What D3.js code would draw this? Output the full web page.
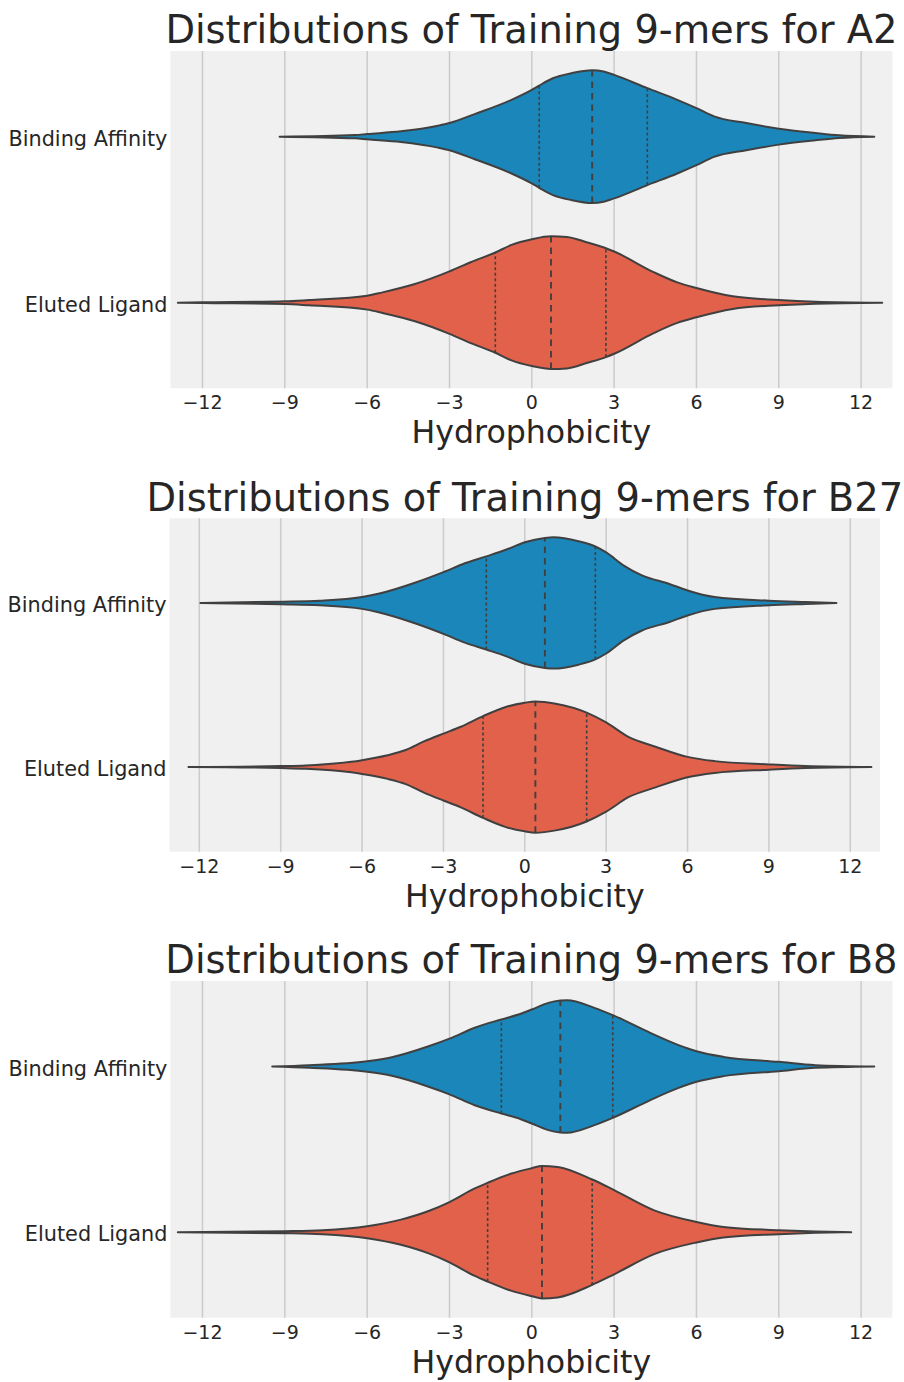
<!DOCTYPE html>
<html>
<head>
<meta charset="utf-8">
<script src="https://cdn.jsdelivr.net/npm/d3@7"></script>
<style>
  html, body { margin: 0; padding: 0; background: #ffffff; }
  svg { display: block; }
  text { font-family: "DejaVu Sans", sans-serif; fill: #262626; }
</style>
</head>
<body>
<svg id="chart" width="904" height="1382"></svg>
<script>
// ---------------- DATA ----------------
const categories = ["Binding Affinity", "Eluted Ligand"];
const panelTitles = [
  "Distributions of Training 9-mers for A2",
  "Distributions of Training 9-mers for B27",
  "Distributions of Training 9-mers for B8"
];
const xLabel = "Hydrophobicity";
const xTicks = [-12, -9, -6, -3, 0, 3, 6, 9, 12];
const xDomains = [[-13.17, 13.14], [-13.10, 13.10], [-13.17, 13.14]];

// violin profiles: [hydrophobicity, relative density (max = 1)]
const a2Binding = [[-9.19,0],[-6.44,0.025],[-6,0.04],[-4.77,0.08],[-3.42,0.165],[-3,0.205],[-2.08,0.34],[-0.74,0.555],[0,0.705],[0.27,0.77],[0.77,0.88],[1.44,0.955],[2.2,1.0],[2.62,0.98],[3,0.93],[4.21,0.73],[5.3,0.555],[6,0.43],[6.64,0.305],[7.82,0.205],[9,0.12],[10.34,0.055],[11.2,0.02],[12.48,0]];
const a2Eluted = [[-12.9,0],[-12,0.005],[-9,0.02],[-8.12,0.04],[-6,0.105],[-5.44,0.155],[-4.26,0.28],[-3,0.47],[-2.25,0.605],[-1.33,0.755],[-0.74,0.87],[0,0.955],[0.7,1.0],[1.28,0.99],[2.03,0.905],[2.7,0.82],[3,0.77],[4.46,0.455],[5.3,0.305],[6,0.22],[7.32,0.095],[9,0.04],[10.34,0.015],[12.77,0]];
const b27Binding = [[-11.96,0],[-9,0.02],[-7.57,0.035],[-6,0.09],[-5.4,0.14],[-3.97,0.32],[-3,0.47],[-2.21,0.605],[-1.42,0.71],[-0.7,0.81],[0,0.925],[0.74,0.99],[1.06,1.0],[1.98,0.94],[2.6,0.86],[3,0.77],[3.65,0.57],[4.32,0.42],[5.33,0.29],[6,0.19],[7,0.09],[9,0.035],[10.35,0.015],[11.49,0]];
const b27Eluted = [[-12.4,0],[-9,0.015],[-8.07,0.025],[-6.4,0.08],[-6,0.105],[-5.06,0.18],[-4.39,0.26],[-3.72,0.39],[-3,0.51],[-2.38,0.61],[-1.54,0.775],[-0.7,0.915],[0,0.98],[0.39,1.0],[1.14,0.965],[2.28,0.83],[3,0.68],[3.82,0.46],[4.82,0.31],[6,0.155],[7,0.09],[9,0.04],[10.35,0.015],[12.78,0]];
const b8Binding = [[-9.46,0],[-8.12,0.02],[-6,0.08],[-5.1,0.14],[-3.76,0.305],[-3,0.42],[-2.08,0.585],[-1.11,0.71],[-0.4,0.795],[0,0.86],[0.6,0.96],[1.04,0.995],[1.28,1.0],[2.28,0.885],[2.95,0.775],[4.3,0.51],[5.3,0.33],[6,0.23],[6.98,0.145],[9,0.07],[10.34,0.02],[12.48,0]];
const b8Eluted = [[-12.9,0],[-9,0.015],[-7.62,0.03],[-6,0.09],[-4.77,0.19],[-3.76,0.32],[-3,0.455],[-2.08,0.66],[-1.61,0.745],[-0.74,0.885],[0,0.965],[0.37,1.0],[0.94,0.985],[2.2,0.795],[3,0.635],[4.46,0.33],[6,0.155],[6.98,0.08],[9,0.03],[10.34,0.01],[11.64,0]];

// quartiles [Q1, median, Q3]
const a2BindingQ = [0.27, 2.2, 4.21];
const a2ElutedQ = [-1.33, 0.7, 2.7];
const b27BindingQ = [-1.42, 0.74, 2.6];
const b27ElutedQ = [-1.54, 0.39, 2.28];
const b8BindingQ = [-1.11, 1.04, 2.95];
const b8ElutedQ = [-1.61, 0.37, 2.2];

// ---------------- LAYOUT / STYLE ----------------
const colors = ["#1b86ba", "#e2614a"];
const outline = "#404040";
const panels = [
  { title: panelTitles[0], domain: xDomains[0], box: {l:170.4, r:892.4, t:51, b:388.3}, profiles:[a2Binding, a2Eluted], quarts:[a2BindingQ, a2ElutedQ] },
  { title: panelTitles[1], domain: xDomains[1], box: {l:169.5, r:880.1, t:518.3, b:851.7}, profiles:[b27Binding, b27Eluted], quarts:[b27BindingQ, b27ElutedQ] },
  { title: panelTitles[2], domain: xDomains[2], box: {l:170.4, r:892.4, t:981, b:1317.7}, profiles:[b8Binding, b8Eluted], quarts:[b8BindingQ, b8ElutedQ] }
];

function densityAt(profile, v) {
  for (let i = 0; i < profile.length - 1; i++) {
    const a = profile[i], b = profile[i+1];
    if (v >= a[0] && v <= b[0]) {
      const t = (v - a[0]) / (b[0] - a[0]);
      return a[1] + t * (b[1] - a[1]);
    }
  }
  return 0;
}

const svg = d3.select("#chart");

panels.forEach(p => {
  const {l, r, t, b} = p.box;
  const g = svg.append("g");
  const x = d3.scaleLinear().domain(p.domain).range([l, r]);
  const y = d3.scaleLinear().domain([-0.516, 1.516]).range([t, b]);
  const band = y(1) - y(0);
  const maxHalf = 0.4 * band;

  g.append("rect").attr("x", l).attr("y", t).attr("width", r - l).attr("height", b - t).attr("fill", "#f0f0f0");

  g.selectAll("line.grid").data(xTicks).join("line")
    .attr("class", "grid")
    .attr("x1", d => x(d)).attr("x2", d => x(d))
    .attr("y1", t).attr("y2", b)
    .attr("stroke", "#cbcbcb").attr("stroke-width", 1.5);

  categories.forEach((cat, i) => {
    const cy = y(i);
    const prof = p.profiles[i];
    const area = d3.area()
      .x(d => x(d[0]))
      .y0(d => cy + d[1] * maxHalf)
      .y1(d => cy - d[1] * maxHalf)
      .curve(d3.curveMonotoneX);
    g.append("path").attr("d", area(prof))
      .attr("fill", colors[i]).attr("stroke", outline)
      .attr("stroke-width", 2).attr("stroke-linejoin", "round");

    p.quarts[i].forEach((q, k) => {
      const h = densityAt(prof, q) * maxHalf;
      g.append("line")
        .attr("x1", x(q)).attr("x2", x(q))
        .attr("y1", cy + h).attr("y2", cy - h)
        .attr("stroke", outline)
        .attr("stroke-width", k === 1 ? 1.9 : 1.6)
        .attr("stroke-dasharray", k === 1 ? "6.5,5" : "3,2.5");
    });

    g.append("text").attr("x", l - 3).attr("y", cy + 9)
      .attr("text-anchor", "end").attr("font-size", 20.8).text(cat);
  });

  g.selectAll("text.xt").data(xTicks).join("text")
    .attr("class", "xt")
    .attr("x", d => x(d)).attr("y", b + 21)
    .attr("text-anchor", "middle").attr("font-size", 19)
    .text(d => d < 0 ? "\u2212" + Math.abs(d) : String(d));

  g.append("text").attr("x", (l + r) / 2).attr("y", b + 55)
    .attr("text-anchor", "middle").attr("font-size", 31.6).text(xLabel);

  g.append("text").attr("x", (l + r) / 2).attr("y", t - 7.7)
    .attr("text-anchor", "middle").attr("font-size", 38.4).text(p.title);
});
</script>
</body>
</html>
